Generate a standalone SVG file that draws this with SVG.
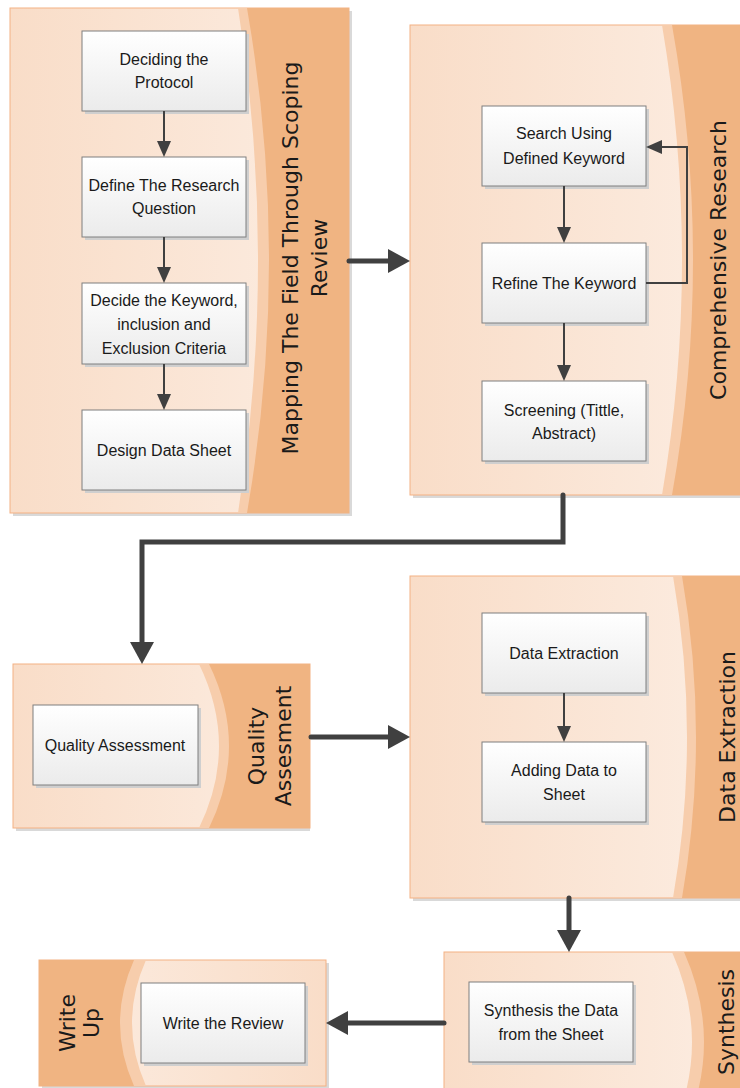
<svg xmlns="http://www.w3.org/2000/svg" width="740" height="1088" viewBox="0 0 740 1088">
<defs>
<linearGradient id="bodyR" x1="0" y1="0" x2="1" y2="0">
<stop offset="0" stop-color="#F9DDC8"/><stop offset="1" stop-color="#FCEDE2"/>
</linearGradient>
<linearGradient id="bodyL" x1="1" y1="0" x2="0" y2="0">
<stop offset="0" stop-color="#F9DDC8"/><stop offset="1" stop-color="#FCEDE2"/>
</linearGradient>
<linearGradient id="boxG" x1="0" y1="0" x2="0" y2="1">
<stop offset="0" stop-color="#FFFFFF"/><stop offset="1" stop-color="#EBEBEB"/>
</linearGradient>
<marker id="ah" markerUnits="userSpaceOnUse" viewBox="0 0 16 14" markerWidth="16" markerHeight="14" refX="10" refY="7" orient="auto">
<path d="M0,0 L16,7 L0,14 Z" fill="#404040"/>
</marker>
<marker id="ahBig" markerUnits="userSpaceOnUse" viewBox="0 0 22 24" markerWidth="22" markerHeight="24" refX="12" refY="12" orient="auto">
<path d="M0,0 L22,12 L0,24 Z" fill="#404040"/>
</marker>
</defs>
<style>
.shadow{fill:#D9D9D9;}
.body{stroke:#F4B183;stroke-width:1;}
.strip{fill:#F7CDAC;}
.head{fill:#F0B482;}
.bsh{fill:#CFCFCF;}
.box{fill:url(#boxG);stroke:#7F7F7F;stroke-width:1;}
.t{font-family:"Liberation Sans",Arial,sans-serif;font-size:16px;fill:#1A1A1A;text-anchor:middle;}
.h{font-family:"DejaVu Sans",Verdana,sans-serif;font-size:22px;fill:#1A1A1A;text-anchor:middle;}
.thin{fill:none;stroke:#404040;stroke-width:2;}
.thick{fill:none;stroke:#404040;stroke-width:5;stroke-linecap:round;stroke-linejoin:miter;}
</style>

<g id="lane-mapping">
<rect class="shadow" x="13" y="11" width="339" height="505"/>
<rect class="body" x="10" y="8" width="339" height="505" fill="url(#bodyR)"/>
<path class="strip" d="M238,8 Q278,260 238,513 L349,513 L349,8 Z"/>
<path class="head" d="M247,8 Q291,260 247,513 L349,513 L349,8 Z"/>
<text class="h" transform="translate(298,258) rotate(-90)">Mapping The Field Through Scoping</text>
<text class="h" transform="translate(327,258) rotate(-90)">Review</text>
</g>

<g id="lane-comprehensive">
<rect class="shadow" x="413" y="28" width="330" height="470"/>
<rect class="body" x="410" y="25" width="335" height="470" fill="url(#bodyR)"/>
<path class="strip" d="M662,25 Q702,260 662,495 L745,495 L745,25 Z"/>
<path class="head" d="M672,25 Q714,260 672,495 L745,495 L745,25 Z"/>
<text class="h" transform="translate(726,260) rotate(-90)">Comprehensive Research</text>
</g>

<g id="lane-quality">
<rect class="shadow" x="16" y="667" width="294" height="164"/>
<rect class="body" x="13" y="664" width="297" height="164" fill="url(#bodyR)"/>
<path class="strip" d="M199,664 Q239,746 199,828 L310,828 L310,664 Z"/>
<path class="head" d="M209,664 Q249,746 209,828 L310,828 L310,664 Z"/>
<text class="h" transform="translate(264,746) rotate(-90)">Quality</text>
<text class="h" transform="translate(291,746) rotate(-90)">Assesment</text>
</g>

<g id="lane-data">
<rect class="shadow" x="413" y="579" width="330" height="322"/>
<rect class="body" x="410" y="576" width="335" height="322" fill="url(#bodyR)"/>
<path class="strip" d="M673,576 Q701,737 673,898 L745,898 L745,576 Z"/>
<path class="head" d="M682,576 Q710,737 682,898 L745,898 L745,576 Z"/>
<text class="h" transform="translate(735,737) rotate(-90)">Data Extraction</text>
</g>

<g id="lane-synthesis">
<rect class="shadow" x="447" y="955" width="300" height="180"/>
<rect class="body" x="444" y="952" width="300" height="180" fill="url(#bodyR)"/>
<path class="strip" d="M672,952 Q712,1042 672,1132 L745,1132 L745,952 Z"/>
<path class="head" d="M684,952 Q724,1042 684,1132 L745,1132 L745,952 Z"/>
<text class="h" transform="translate(734,1022) rotate(-90)">Synthesis</text>
</g>

<g id="lane-writeup">
<rect class="shadow" x="42" y="963" width="287" height="126"/>
<rect class="body" x="39" y="960" width="287" height="126" fill="url(#bodyL)"/>
<path class="strip" d="M39,960 L146,960 Q118,1023 146,1086 L39,1086 Z"/>
<path class="head" d="M39,960 L134,960 Q106,1023 134,1086 L39,1086 Z"/>
<text class="h" transform="translate(75,1023) rotate(-90)">Write</text>
<text class="h" transform="translate(99,1023) rotate(-90)">Up</text>
</g>

<g id="n-protocol">
<rect class="bsh" x="85" y="34" width="164" height="80"/>
<rect class="box" x="82" y="31" width="164" height="80"/>
<text class="t" x="164" y="65">Deciding the</text>
<text class="t" x="164" y="88">Protocol</text>
</g>
<g id="n-question">
<rect class="bsh" x="85" y="160" width="164" height="80"/>
<rect class="box" x="82" y="157" width="164" height="80"/>
<text class="t" x="164" y="191">Define The Research</text>
<text class="t" x="164" y="214">Question</text>
</g>
<g id="n-keyword">
<rect class="bsh" x="85" y="286" width="164" height="81"/>
<rect class="box" x="82" y="283" width="164" height="81"/>
<text class="t" x="164" y="306">Decide the Keyword,</text>
<text class="t" x="164" y="330">inclusion and</text>
<text class="t" x="164" y="354">Exclusion Criteria</text>
</g>
<g id="n-datasheet">
<rect class="bsh" x="85" y="413" width="164" height="80"/>
<rect class="box" x="82" y="410" width="164" height="80"/>
<text class="t" x="164" y="456">Design Data Sheet</text>
</g>

<g id="n-search">
<rect class="bsh" x="485" y="109" width="164" height="80"/>
<rect class="box" x="482" y="106" width="164" height="80"/>
<text class="t" x="564" y="139">Search Using</text>
<text class="t" x="564" y="164">Defined Keyword</text>
</g>
<g id="n-refine">
<rect class="bsh" x="485" y="246" width="164" height="80"/>
<rect class="box" x="482" y="243" width="164" height="80"/>
<text class="t" x="564" y="289">Refine The Keyword</text>
</g>
<g id="n-screening">
<rect class="bsh" x="485" y="384" width="164" height="80"/>
<rect class="box" x="482" y="381" width="164" height="80"/>
<text class="t" x="564" y="416">Screening (Tittle,</text>
<text class="t" x="564" y="439">Abstract)</text>
</g>

<g id="n-quality">
<rect class="bsh" x="36" y="708" width="165" height="80"/>
<rect class="box" x="33" y="705" width="165" height="80"/>
<text class="t" x="115" y="751">Quality Assessment</text>
</g>

<g id="n-extraction">
<rect class="bsh" x="485" y="616" width="164" height="80"/>
<rect class="box" x="482" y="613" width="164" height="80"/>
<text class="t" x="564" y="659">Data Extraction</text>
</g>
<g id="n-adding">
<rect class="bsh" x="485" y="745" width="164" height="80"/>
<rect class="box" x="482" y="742" width="164" height="80"/>
<text class="t" x="564" y="776">Adding Data to</text>
<text class="t" x="564" y="800">Sheet</text>
</g>

<g id="n-synthesis">
<rect class="bsh" x="472" y="985" width="164" height="80"/>
<rect class="box" x="469" y="982" width="164" height="80"/>
<text class="t" x="551" y="1016">Synthesis the Data</text>
<text class="t" x="551" y="1040">from the Sheet</text>
</g>

<g id="n-write">
<rect class="bsh" x="144" y="986" width="164" height="80"/>
<rect class="box" x="141" y="983" width="164" height="80"/>
<text class="t" x="223" y="1029">Write the Review</text>
</g>

<g id="connectors">
<line class="thin" x1="164" y1="111" x2="164" y2="151" marker-end="url(#ah)"/>
<line class="thin" x1="164" y1="237" x2="164" y2="277" marker-end="url(#ah)"/>
<line class="thin" x1="164" y1="364" x2="164" y2="404" marker-end="url(#ah)"/>
<line class="thin" x1="564" y1="186" x2="564" y2="237" marker-end="url(#ah)"/>
<line class="thin" x1="564" y1="323" x2="564" y2="375" marker-end="url(#ah)"/>
<polyline class="thin" points="646,283 687,283 687,147 652,147" marker-end="url(#ah)"/>
<line class="thin" x1="564" y1="693" x2="564" y2="736" marker-end="url(#ah)"/>
<line class="thick" x1="349" y1="261" x2="400" y2="261" marker-end="url(#ahBig)"/>
<polyline class="thick" points="563,495 563,542 142,542 142,654" marker-end="url(#ahBig)"/>
<line class="thick" x1="311" y1="737" x2="400" y2="737" marker-end="url(#ahBig)"/>
<line class="thick" x1="569" y1="898" x2="569" y2="942" marker-end="url(#ahBig)"/>
<line class="thick" x1="444" y1="1023" x2="336" y2="1023" marker-end="url(#ahBig)"/>
</g>
</svg>
